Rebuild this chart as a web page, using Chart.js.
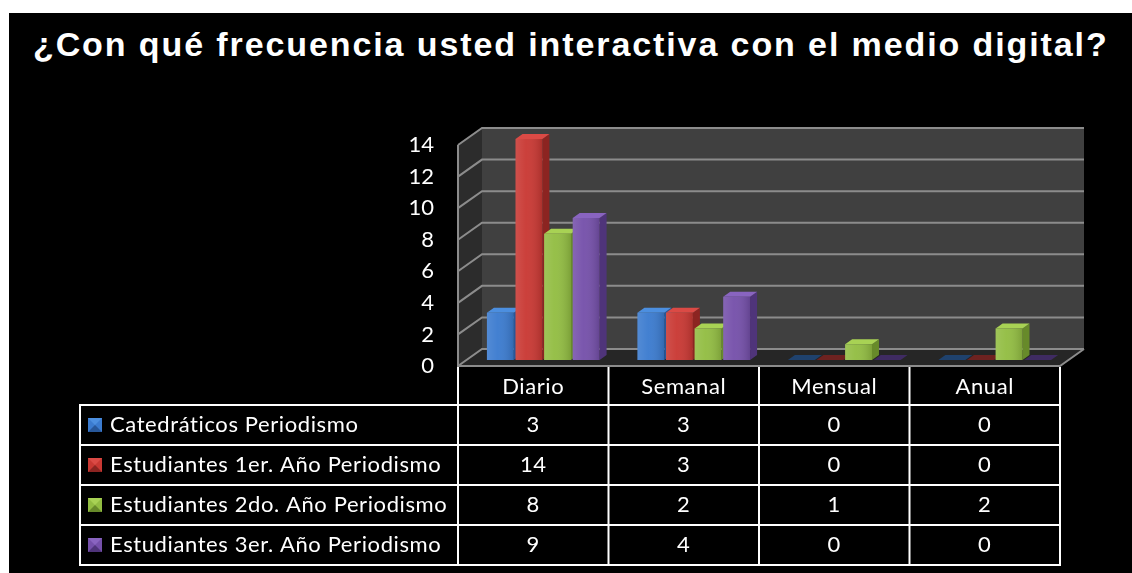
<!DOCTYPE html>
<html lang="es">
<head>
<meta charset="UTF-8">
<title>¿Con qué frecuencia usted interactiva con el medio digital?</title>
<script src="https://cdn.jsdelivr.net/npm/chart.js"></script>
<style>
    html, body { margin: 0; padding: 0; background: #fff; }
    body { position: relative; width: 1132px; height: 573px; overflow: hidden; }
    #fondo { position: absolute; left: 9px; top: 13px; width: 1123px; height: 560px; background: #000; }
    #titulo {
        position: absolute; left: 33px; top: 27px;
        font: bold 34px "Liberation Sans", Arial, sans-serif; line-height: 1;
        letter-spacing: 1.9px;
        color: #fff; white-space: nowrap;
    }
    #chart-container { position: absolute; left: 0; top: 0; width: 1132px; height: 573px; }
</style>
</head>
<body>
<div id="fondo"></div>
<div id="titulo">¿Con qué frecuencia usted interactiva con el medio digital?</div>
<div id="chart-container">
    <canvas id="frecuenciaChart"></canvas>
</div>

<script>
    // datos
    const categorias = ['Diario', 'Semanal', 'Mensual', 'Anual'];
    const catedraticos = [3, 3, 0, 0];
    const estudiantes1 = [14, 3, 0, 0];
    const estudiantes2 = [8, 2, 1, 2];
    const estudiantes3 = [9, 4, 0, 0];
    const nombresSeries = [
        'Catedráticos Periodismo',
        'Estudiantes 1er. Año Periodismo',
        'Estudiantes 2do. Año Periodismo',
        'Estudiantes 3er. Año Periodismo'
    ];
    const ejeY = { min: 0, max: 14, paso: 2 };

    // colores: frente, lado, tapa, piso (valor 0)
    const colores = [
        { frente: '#3b7bcf', lado: '#27579a', tapa: '#4c8fe0', piso: '#1f426e' },
        { frente: '#c93833', lado: '#8c2421', tapa: '#db4a45', piso: '#6e2220' },
        { frente: '#92bd42', lado: '#678a2a', tapa: '#a8d254', piso: '#4f6b22' },
        { frente: '#7550aa', lado: '#4f347a', tapa: '#8964c0', piso: '#3f2b62' }
    ];

    const fondo3d = { dx: 24, dy: -17 };   // profundidad de las paredes
    const despBarra = { dx: 10, dy: -6 };  // posición de las barras dentro del fondo
    const profBarra = { dx: 7, dy: -5 };   // grosor de cada barra
    const tablaIzq = 80;
    const altoEncabezado = 39;
    const altoFila = 40;
    const fuente = 'Lato, "Open Sans", sans-serif';

    function poligono(ctx, pts, color) {
        ctx.beginPath();
        ctx.moveTo(pts[0][0], pts[0][1]);
        for (let i = 1; i < pts.length; i++) ctx.lineTo(pts[i][0], pts[i][1]);
        ctx.closePath();
        ctx.fillStyle = color;
        ctx.fill();
    }

    const grafico3d = {
        id: 'grafico3d',
        beforeDatasetsDraw(chart) {
            const { ctx, chartArea: a, scales: { y } } = chart;
            const dx = fondo3d.dx, dy = fondo3d.dy;
            ctx.save();
            // paredes y piso
            poligono(ctx, [[a.left, a.top], [a.left + dx, a.top + dy], [a.left + dx, a.bottom + dy], [a.left, a.bottom]], '#2c2c2c');
            poligono(ctx, [[a.left + dx, a.top + dy], [a.right + dx, a.top + dy], [a.right + dx, a.bottom + dy], [a.left + dx, a.bottom + dy]], '#404040');
            poligono(ctx, [[a.left, a.bottom], [a.left + dx, a.bottom + dy], [a.right + dx, a.bottom + dy], [a.right, a.bottom]], '#262626');

            // líneas de división
            ctx.strokeStyle = '#8c8c8c';
            ctx.lineWidth = 2;
            y.ticks.forEach(t => {
                const py = y.getPixelForValue(t.value);
                ctx.beginPath();
                ctx.moveTo(a.left, py);
                ctx.lineTo(a.left + dx, py + dy);
                ctx.lineTo(a.right + dx, py + dy);
                ctx.stroke();
            });
            ctx.beginPath();
            ctx.moveTo(a.left, a.top);
            ctx.lineTo(a.left, a.bottom);
            ctx.lineTo(a.right, a.bottom);
            ctx.lineTo(a.right + dx, a.bottom + dy);
            ctx.stroke();

            // caras laterales y superiores de las barras
            for (let j = 0; j < categorias.length; j++) {
                chart.data.datasets.forEach((ds, i) => {
                    const el = chart.getDatasetMeta(i).data[j];
                    const l = el.x - el.width / 2 + despBarra.dx;
                    const r = el.x + el.width / 2 + despBarra.dx;
                    const t = el.y + despBarra.dy;
                    const b = el.base + despBarra.dy;
                    const c = colores[i];
                    if (b - t > 0.5) {
                        poligono(ctx, [[r, t], [r + profBarra.dx, t + profBarra.dy], [r + profBarra.dx, b + profBarra.dy], [r, b]], c.lado);
                    }
                    poligono(ctx, [[l, t], [l + profBarra.dx, t + profBarra.dy], [r + profBarra.dx, t + profBarra.dy], [r, t]],
                        ds.data[j] > 0 ? c.tapa : c.piso);
                });
            }
            ctx.restore();
            ctx.save();
            ctx.translate(despBarra.dx, despBarra.dy);
        },
        afterDatasetsDraw(chart) {
            const { ctx } = chart;
            // brillo en el frente de cada barra
            chart.data.datasets.forEach((ds, i) => {
                chart.getDatasetMeta(i).data.forEach(el => {
                    const h = el.base - el.y;
                    if (h < 1) return;
                    const l = el.x - el.width / 2;
                    const g = ctx.createLinearGradient(l, 0, l + el.width, 0);
                    g.addColorStop(0, 'rgba(255,255,255,0.12)');
                    g.addColorStop(0.4, 'rgba(255,255,255,0.04)');
                    g.addColorStop(1, 'rgba(0,0,0,0.15)');
                    ctx.fillStyle = g;
                    ctx.fillRect(l, el.y, el.width, h);
                });
            });
            ctx.restore();
        },
        afterDraw(chart) {
            const { ctx, chartArea: a } = chart;
            const colW = (a.right - a.left) / categorias.length;
            const filas = chart.data.datasets.length;
            const top1 = a.bottom + altoEncabezado;
            const fondoTabla = top1 + filas * altoFila;
            ctx.save();
            ctx.strokeStyle = '#ffffff';
            ctx.lineWidth = 2;
            ctx.beginPath();
            for (let k = 0; k <= categorias.length; k++) {
                const x = a.left + k * colW;
                ctx.moveTo(x, a.bottom + 1);
                ctx.lineTo(x, fondoTabla);
            }
            ctx.moveTo(tablaIzq, top1);
            ctx.lineTo(tablaIzq, fondoTabla);
            for (let f = 0; f <= filas; f++) {
                const yy = top1 + f * altoFila;
                ctx.moveTo(tablaIzq - 1, yy);
                ctx.lineTo(a.right + 1, yy);
            }
            ctx.stroke();

            ctx.fillStyle = '#ffffff';
            ctx.font = '22px ' + fuente;
            ctx.letterSpacing = '0.6px';
            ctx.textBaseline = 'middle';
            ctx.textAlign = 'center';
            categorias.forEach((cat, k) => {
                ctx.fillText(cat, a.left + (k + 0.5) * colW, a.bottom + altoEncabezado / 2 + 1);
            });
            chart.data.datasets.forEach((ds, i) => {
                const cy = top1 + (i + 0.5) * altoFila;
                ds.data.forEach((v, k) => {
                    ctx.fillStyle = '#ffffff';
                    ctx.textAlign = 'center';
                    ctx.fillText(String(v), a.left + (k + 0.5) * colW, cy);
                });
                // marcador de la serie
                const mx = tablaIzq + 8, my = cy - 7, s = 14;
                const c = colores[i];
                ctx.fillStyle = c.frente;
                ctx.fillRect(mx, my, s, s);
                poligono(ctx, [[mx, my], [mx + s, my], [mx + s / 2, my + s / 2]], c.tapa);
                poligono(ctx, [[mx, my + s], [mx + s, my + s], [mx + s / 2, my + s / 2]], c.lado);
                ctx.fillStyle = '#ffffff';
                ctx.textAlign = 'left';
                ctx.fillText(ds.label, tablaIzq + 30, cy);
            });
            ctx.restore();
        }
    };

    const series = [catedraticos, estudiantes1, estudiantes2, estudiantes3];

    new Chart(document.getElementById('frecuenciaChart'), {
        type: 'bar',
        data: {
            labels: categorias,
            datasets: series.map((datos, i) => ({
                label: nombresSeries[i],
                data: datos,
                backgroundColor: colores[i].frente,
                borderWidth: 0,
                clip: false
            }))
        },
        options: {
            responsive: true,
            maintainAspectRatio: false,
            animation: false,
            categoryPercentage: 0.76,
            barPercentage: 0.94,
            layout: { padding: { top: 145, right: 72, bottom: 207, left: 0 } },
            plugins: {
                legend: { display: false },
                tooltip: { enabled: false }
            },
            scales: {
                x: { display: false },
                y: {
                    min: ejeY.min,
                    max: ejeY.max,
                    ticks: { stepSize: ejeY.paso, color: '#ffffff', font: { family: fuente, size: 22 }, padding: 24 },
                    grid: { display: false, drawTicks: false },
                    border: { display: false },
                    afterFit(scale) { scale.width = 458; }
                }
            }
        },
        plugins: [grafico3d]
    });
</script>
</body>
</html>
